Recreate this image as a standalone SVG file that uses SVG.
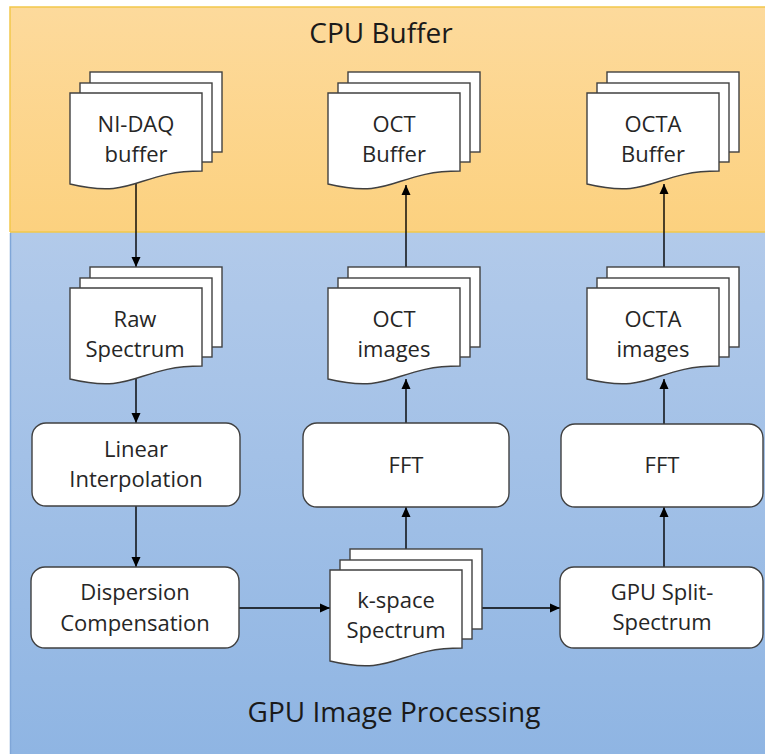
<svg xmlns="http://www.w3.org/2000/svg" xmlns:xlink="http://www.w3.org/1999/xlink" width="765" height="754" viewBox="0 0 765 754">
<defs>
<linearGradient id="gOrange" x1="0" y1="0" x2="0" y2="1">
<stop offset="0" stop-color="#FDDA9C"/>
<stop offset="1" stop-color="#FCD17F"/>
</linearGradient>
<linearGradient id="gBlue" x1="0" y1="0" x2="0" y2="1">
<stop offset="0" stop-color="#B2CAEA"/>
<stop offset="1" stop-color="#8FB5E3"/>
</linearGradient>
<marker id="arrow" viewBox="0 0 10 10" refX="10" refY="5" markerWidth="10" markerHeight="10" markerUnits="userSpaceOnUse" orient="auto">
<path d="M0,0.5 L10,5 L0,9.5 Z" fill="#000"/>
</marker>
<g id="stack">
<rect x="20" y="-21" width="132" height="80" class="doc"/>
<rect x="10" y="-10" width="132" height="79" class="doc"/>
<path d="M0,0 H132 V78 C66,78 66,107 0,91 Z" class="doc"/>
</g>
</defs>
<style>
.doc{fill:#fff;stroke:#404040;stroke-width:1.4}
.box{fill:#fff;stroke:#404040;stroke-width:1.4}
.lbl{font-family:"Open Sans","Noto Sans","Liberation Sans",sans-serif;font-size:22px;fill:#262626;text-anchor:middle}
.title{font-family:"Open Sans","Noto Sans","Liberation Sans",sans-serif;font-size:28px;fill:#1a1a1a;text-anchor:middle}
.conn{stroke:#000;stroke-width:1.4;fill:none;marker-end:url(#arrow)}
</style>
<rect width="765" height="754" fill="#fff"/>
<g id="regions">
<rect x="10" y="7" width="755" height="225" fill="url(#gOrange)"/>
<path d="M10,232 V7 H765" fill="none" stroke="#F2C84B" stroke-width="1.5"/>
<rect x="10" y="232" width="755" height="522" fill="url(#gBlue)"/>
<line x1="10" y1="232" x2="765" y2="232" stroke="#F2C84B" stroke-width="1.5"/>
<line x1="10.5" y1="233" x2="10.5" y2="754" stroke="#7FA6D8" stroke-width="1.5"/>
<text class="title" x="381" y="43">CPU Buffer</text>
<text class="title" x="394" y="722">GPU Image Processing</text>
</g>
<g id="connectors">
<line class="conn" x1="136" y1="184" x2="136" y2="267"/>
<line class="conn" x1="136" y1="378" x2="136" y2="423"/>
<line class="conn" x1="136" y1="506" x2="136" y2="567"/>
<line class="conn" x1="239" y1="608" x2="330" y2="608"/>
<line class="conn" x1="482" y1="608" x2="560" y2="608"/>
<line class="conn" x1="406" y1="549" x2="406" y2="507"/>
<line class="conn" x1="406" y1="423" x2="406" y2="379"/>
<line class="conn" x1="406" y1="267" x2="406" y2="185"/>
<line class="conn" x1="664" y1="567" x2="664" y2="507"/>
<line class="conn" x1="664" y1="424" x2="664" y2="379"/>
<line class="conn" x1="664" y1="267" x2="664" y2="184"/>
</g>
<g id="ni-daq-buffer">
<use xlink:href="#stack" x="70" y="93"/>
<text class="lbl" x="136" y="132">NI-DAQ</text>
<text class="lbl" x="136" y="162">buffer</text>
</g>
<g id="oct-buffer">
<use xlink:href="#stack" x="328" y="93"/>
<text class="lbl" x="394" y="132">OCT</text>
<text class="lbl" x="394" y="162">Buffer</text>
</g>
<g id="octa-buffer">
<use xlink:href="#stack" x="587" y="93"/>
<text class="lbl" x="653" y="132">OCTA</text>
<text class="lbl" x="653" y="162">Buffer</text>
</g>
<g id="raw-spectrum">
<use xlink:href="#stack" x="70" y="288"/>
<text class="lbl" x="135" y="327">Raw</text>
<text class="lbl" x="135" y="357">Spectrum</text>
</g>
<g id="oct-images">
<use xlink:href="#stack" x="328" y="288"/>
<text class="lbl" x="394" y="327">OCT</text>
<text class="lbl" x="394" y="357">images</text>
</g>
<g id="octa-images">
<use xlink:href="#stack" x="587" y="288"/>
<text class="lbl" x="653" y="327">OCTA</text>
<text class="lbl" x="653" y="357">images</text>
</g>
<g id="k-space-spectrum">
<use xlink:href="#stack" x="330" y="570"/>
<text class="lbl" x="396" y="608">k-space</text>
<text class="lbl" x="396" y="638">Spectrum</text>
</g>
<g id="linear-interpolation">
<rect class="box" x="32" y="423" width="208" height="83" rx="14"/>
<text class="lbl" x="136" y="457">Linear</text>
<text class="lbl" x="136" y="487">Interpolation</text>
</g>
<g id="dispersion-compensation">
<rect class="box" x="31" y="567" width="208" height="81" rx="14"/>
<text class="lbl" x="135" y="600">Dispersion</text>
<text class="lbl" x="135" y="631">Compensation</text>
</g>
<g id="fft-oct">
<rect class="box" x="303" y="423" width="206" height="84" rx="14"/>
<text class="lbl" x="406" y="473">FFT</text>
</g>
<g id="fft-octa">
<rect class="box" x="561" y="424" width="202" height="83" rx="14"/>
<text class="lbl" x="662" y="473">FFT</text>
</g>
<g id="gpu-split-spectrum">
<rect class="box" x="560" y="567" width="203" height="81" rx="14"/>
<text class="lbl" x="662" y="600">GPU Split-</text>
<text class="lbl" x="662" y="630">Spectrum</text>
</g>
</svg>
